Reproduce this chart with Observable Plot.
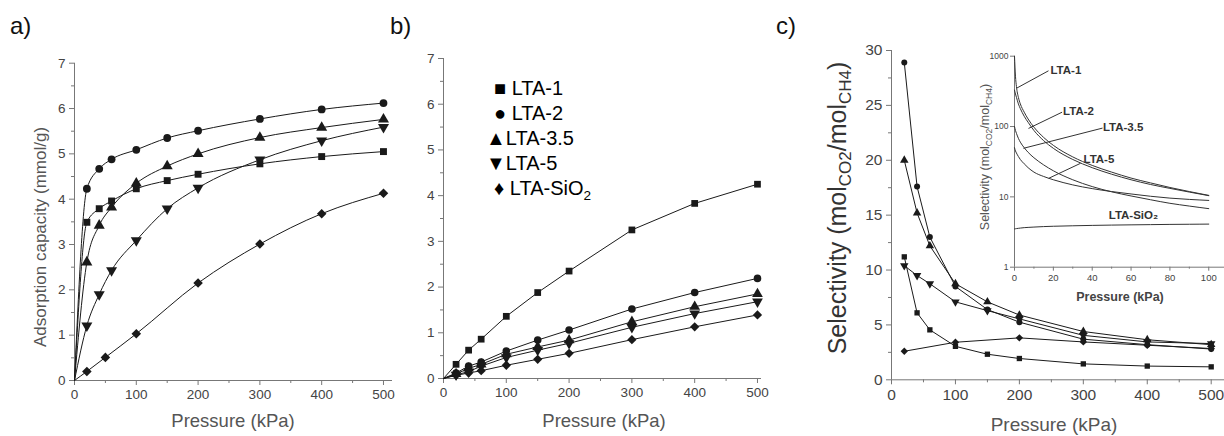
<!DOCTYPE html>
<html>
<head>
<meta charset="utf-8">
<script src="https://cdn.jsdelivr.net/npm/d3@7"></script>
<script src="https://cdn.jsdelivr.net/npm/@observablehq/plot@0.6"></script>
<style>
  body { margin: 0; background: #fff; }
  #root { position: relative; width: 1224px; height: 436px; overflow: hidden; font-family: "Liberation Sans", Arial, sans-serif; }
  .lbl { position: absolute; white-space: nowrap; line-height: 1; }
  .rot { transform: translate(-50%, -50%) rotate(-90deg); }
  .ctr { transform: translate(-50%, -50%); }
  .panel { position: absolute; font-size: 24px; color: #111; }
  .leg { position: absolute; font-size: 20px; color: #000; white-space: nowrap; line-height: 1; }
  sub { font-size: 68%; vertical-align: -0.35em; line-height: 0; }
</style>
</head>
<body>
<div id="root"></div>
<script>
// ---------------- DATA ----------------
const seriesNames = ["LTA-1", "LTA-2", "LTA-3.5", "LTA-5", "LTA-SiO2"];

// a) CO2 adsorption capacity (mmol/g)
const pressureA = [0, 20, 40, 60, 100, 150, 200, 300, 400, 500];
const pressureA_SiO2 = [0, 20, 50, 100, 200, 300, 400, 500];
const a_LTA1 = [0, 3.49, 3.79, 3.96, 4.23, 4.41, 4.55, 4.78, 4.94, 5.05];
const a_LTA2 = [0, 4.23, 4.67, 4.88, 5.09, 5.35, 5.51, 5.77, 5.98, 6.12];
const a_LTA35 = [0, 2.61, 3.42, 3.82, 4.35, 4.73, 5.00, 5.36, 5.58, 5.76];
const a_LTA5 = [0, 1.21, 1.90, 2.43, 3.09, 3.79, 4.25, 4.87, 5.29, 5.59];
const a_SiO2 = [0, 0.20, 0.51, 1.03, 2.15, 3.01, 3.68, 4.13];

// b) CH4 adsorption capacity (mmol/g)
const pressureB = [0, 20, 40, 60, 100, 150, 200, 300, 400, 500];
const b_LTA1 = [0, 0.31, 0.62, 0.86, 1.36, 1.88, 2.35, 3.25, 3.83, 4.25];
const b_LTA2 = [0, 0.12, 0.27, 0.36, 0.60, 0.84, 1.06, 1.52, 1.88, 2.19];
const b_LTA35 = [0, 0.10, 0.22, 0.31, 0.53, 0.69, 0.84, 1.24, 1.57, 1.85];
const b_LTA5 = [0, 0.08, 0.15, 0.27, 0.46, 0.62, 0.77, 1.12, 1.42, 1.68];
const b_SiO2 = [0, 0.07, 0.12, 0.17, 0.29, 0.42, 0.55, 0.85, 1.13, 1.39];

// c) CO2/CH4 selectivity
const pressureC = [20, 40, 60, 100, 150, 200, 300, 400, 500];
const pressureC_SiO2 = [20, 100, 200, 300, 400, 500];
const c_LTA1 = [11.2, 6.1, 4.55, 3.05, 2.33, 1.94, 1.45, 1.25, 1.18];
const c_LTA2 = [28.9, 17.6, 13.0, 8.5, 6.4, 5.25, 3.7, 3.2, 2.8];
const c_LTA35 = [20.0, 15.2, 12.2, 8.75, 7.1, 5.9, 4.4, 3.65, 3.2];
const c_LTA5 = [10.4, 9.5, 8.75, 7.1, 6.3, 5.55, 4.05, 3.45, 3.3];
const c_SiO2 = [2.6, 3.42, 3.82, 3.45, 3.15, 2.85];

// c) inset: ideal selectivity curves (log scale)
const pressureInset = [0, 0.5, 1, 2, 3, 5, 7, 10, 15, 20, 30, 40, 50, 60, 70, 80, 90, 100];
const i_LTA1 = [1000, 520, 370, 260, 210, 160, 128, 98, 70, 54, 37, 28, 22.5, 18.5, 15.8, 13.6, 11.9, 10.5];
const i_LTA2 = [330, 290, 260, 210, 180, 140, 115, 88, 63, 49, 34, 26, 21, 17.5, 15, 13.2, 11.7, 10.4];
const i_LTA35 = [100, 88, 80, 68, 60, 50, 43, 36, 28.5, 23.5, 17.5, 14, 11.8, 10.3, 9.1, 8.1, 7.4, 6.8];
const i_LTA5 = [50, 45, 42, 37.5, 34, 29.5, 26, 22.5, 19.5, 17.5, 14.8, 13.1, 11.9, 11, 10.2, 9.6, 9.2, 8.9];
const i_SiO2 = [3.5, 3.52, 3.54, 3.57, 3.6, 3.65, 3.68, 3.72, 3.78, 3.82, 3.88, 3.93, 3.97, 4.0, 4.03, 4.06, 4.08, 4.1];

// inset callouts (data units: kPa, selectivity)
const insetNotes = [
  {name: "LTA-1",    tx: 18.5, ty: 640, x1: 17.5, y1: 620, x2: 1.0,  y2: 350},
  {name: "LTA-2",    tx: 25.0, ty: 165, x1: 24.5, y1: 160, x2: 7.2,  y2: 94},
  {name: "LTA-3.5",  tx: 45.5, ty: 97,  x1: 45.3, y1: 95,  x2: 4.6,  y2: 49},
  {name: "LTA-5",    tx: 35.5, ty: 34,  x1: 34.0, y1: 30,  x2: 17.5, y2: 18.3},
  {name: "LTA-SiO₂", tx: 48.5, ty: 5.4}
];

// ticks
const ticksP500 = [0, 100, 200, 300, 400, 500];
const minorP500 = [50, 150, 250, 350, 450];
const ticksAds = [0, 1, 2, 3, 4, 5, 6, 7];
const minorAds = [0.5, 1.5, 2.5, 3.5, 4.5, 5.5, 6.5];
const ticksSel = [0, 5, 10, 15, 20, 25, 30];
const minorSel = [2.5, 7.5, 12.5, 17.5, 22.5, 27.5];
const ticksInsetX = [0, 20, 40, 60, 80, 100];
const minorInsetX = [10, 30, 50, 70, 90];
const ticksInsetY = [1, 10, 100, 1000];

// ---------------- HELPERS ----------------
const rows = (xs, ys) => xs.map((x, i) => ({x, y: ys[i]}));
const sqrt3 = Math.sqrt(3);
const triangleDown = {
  draw(context, size) {
    const y = -Math.sqrt(size / (sqrt3 * 3));
    context.moveTo(0, -y * 2);
    context.lineTo(-sqrt3 * y, y);
    context.lineTo(sqrt3 * y, y);
    context.closePath();
  }
};
const symbols = ["square", "circle", "triangle", triangleDown, "diamond2"];
const ink = "#1a1a1a";
const intFmt = d => String(d);

function seriesMarks(sets, curve, r) {
  const marks = [];
  sets.forEach((d) => {
    marks.push(Plot.line(d, {x: "x", y: "y", curve, stroke: ink, strokeWidth: 1}));
  });
  sets.forEach((d, k) => {
    const rr = k === 4 ? r * 1.1 : (k === 2 || k === 3 ? r * 1.05 : r);
    marks.push(Plot.dot(d.filter(p => p.y > 0), {x: "x", y: "y", symbol: symbols[k], r: rr, fill: ink, stroke: "none"}));
  });
  return marks;
}

function axesMarks(xt, xm, yt, ym, fs) {
  return [
    Plot.axisX({ticks: xt, tickSize: 5, tickPadding: 4, tickFormat: intFmt, label: null, stroke: "#777", fontSize: fs}),
    Plot.axisX({ticks: xm, tickSize: 3, tickFormat: () => "", label: null, stroke: "#777"}),
    Plot.axisY({ticks: yt, tickSize: 5, tickPadding: 4, tickFormat: intFmt, label: null, stroke: "#777", fontSize: fs}),
    Plot.axisY({ticks: ym, tickSize: 3, tickFormat: () => "", label: null, stroke: "#777"}),
    Plot.ruleX([0], {stroke: "#777"}),
    Plot.ruleY([0], {stroke: "#777"})
  ];
}

const root = document.getElementById("root");
function place(svg, left, top) {
  svg.style.position = "absolute";
  svg.style.left = left + "px";
  svg.style.top = top + "px";
  svg.style.maxWidth = "none";
  root.appendChild(svg);
}
function label(html, cx, cy, size, color, rotate, weight) {
  const d = document.createElement("div");
  d.className = "lbl " + (rotate ? "rot" : "ctr");
  d.style.left = cx + "px";
  d.style.top = cy + "px";
  d.style.fontSize = size + "px";
  d.style.color = color;
  if (weight) d.style.fontWeight = weight;
  d.innerHTML = html;
  root.appendChild(d);
}
const baseStyle = (fs) => ({fontFamily: "Liberation Sans, Arial, sans-serif", fontSize: fs + "px", color: "#444", background: "transparent", overflow: "hidden"});

// ---------------- PANEL a ----------------
const setsA = [
  rows(pressureA, a_LTA1), rows(pressureA, a_LTA2), rows(pressureA, a_LTA35),
  rows(pressureA, a_LTA5), rows(pressureA_SiO2, a_SiO2)
];
place(Plot.plot({
  width: 400, height: 436,
  marginLeft: 74, marginRight: 8, marginTop: 62.7, marginBottom: 56,
  style: baseStyle(13.5),
  x: {domain: [0, 514.6], label: null},
  y: {domain: [0, 7], label: null},
  marks: [
    ...axesMarks(ticksP500, minorP500, ticksAds, minorAds, 13.5),
    ...seriesMarks(setsA, "monotone-x", 3.9)
  ]
}), 0, 0);

// ---------------- PANEL b ----------------
const setsB = [
  rows(pressureB, b_LTA1), rows(pressureB, b_LTA2), rows(pressureB, b_LTA35),
  rows(pressureB, b_LTA5), rows(pressureB, b_SiO2)
];
place(Plot.plot({
  width: 374, height: 436,
  marginLeft: 43, marginRight: 13, marginTop: 58, marginBottom: 58,
  style: baseStyle(13.5),
  x: {domain: [0, 506.4], label: null},
  y: {domain: [0, 7], label: null},
  marks: [
    ...axesMarks(ticksP500, minorP500, ticksAds, minorAds, 13.5),
    ...seriesMarks(setsB, "linear", 3.8)
  ]
}), 400, 0);

// ---------------- PANEL c ----------------
const setsC = [
  rows(pressureC, c_LTA1), rows(pressureC, c_LTA2), rows(pressureC, c_LTA35),
  rows(pressureC, c_LTA5), rows(pressureC_SiO2, c_SiO2)
];
place(Plot.plot({
  width: 424, height: 436,
  marginLeft: 91, marginRight: 0, marginTop: 50, marginBottom: 56.7,
  style: baseStyle(15.5),
  x: {domain: [0, 520.8], label: null},
  y: {domain: [0, 30], label: null},
  marks: [
    ...axesMarks(ticksP500, minorP500, ticksSel, minorSel, 15.5),
    ...seriesMarks(setsC, "linear", 3.0)
  ]
}), 800, 0);

// ---------------- INSET ----------------
const setsI = [
  rows(pressureInset, i_LTA1), rows(pressureInset, i_LTA2), rows(pressureInset, i_LTA35),
  rows(pressureInset, i_LTA5), rows(pressureInset, i_SiO2)
];
const notesWithLine = insetNotes.filter(n => n.x1 !== undefined);
place(Plot.plot({
  width: 264, height: 270,
  marginLeft: 54, marginRight: 0, marginTop: 15.7, marginBottom: 43.3,
  style: baseStyle(9.5),
  x: {domain: [0, 108.1], label: null},
  y: {type: "log", domain: [1, 1000], label: null},
  marks: [
    Plot.axisX({ticks: ticksInsetX, tickSize: 4, tickPadding: 3, label: null, stroke: "#777", fontSize: 9.5}),
    Plot.axisX({ticks: minorInsetX, tickSize: 2, tickFormat: () => "", label: null, stroke: "#777"}),
    Plot.axisY({ticks: ticksInsetY, tickSize: 4, tickPadding: 2, tickFormat: intFmt, label: null, stroke: "#777", fontSize: 8.5}),
    Plot.ruleX([0], {stroke: "#777"}),
    Plot.ruleY([1], {stroke: "#777"}),
    ...setsI.map(d => Plot.line(d, {x: "x", y: "y", curve: "monotone-x", stroke: "#333", strokeWidth: 1})),
    Plot.link(notesWithLine, {x1: "x1", y1: "y1", x2: "x2", y2: "y2", stroke: "#333", strokeWidth: 1}),
    Plot.text(insetNotes, {x: "tx", y: "ty", text: "name", textAnchor: "start", fontSize: 11.5, fontWeight: "bold", fill: "#333"})
  ]
}), 960, 40);

// ---------------- TEXT: panel letters, axis titles, legend ----------------
const letters = [["a)", 10, 12], ["b)", 390, 12], ["c)", 776, 12]];
letters.forEach(([t, x, y]) => {
  const d = document.createElement("div");
  d.className = "panel"; d.style.left = x + "px"; d.style.top = y + "px"; d.textContent = t;
  root.appendChild(d);
});

label("Adsorption capacity (mmol/g)", 40, 237, 17, "#555", true);
label("Pressure (kPa)", 233, 421, 18.5, "#555", false);
label("Pressure (kPa)", 604, 421, 18.5, "#555", false);
label("Pressure (kPa)", 1054, 424, 19, "#555", false);
label("Selectivity (mol<sub>CO2</sub>/mol<sub>CH4</sub>)", 837, 208, 25, "#333", true);
label("Selectivity (mol<sub>CO2</sub>/mol<sub>CH4</sub>)", 985, 157, 12.5, "#555", true);
label("Pressure (kPa)", 1120, 297, 12.5, "#444", false, "bold");

const legendGlyphs = ["■", "●", "▲", "▼", "♦"];
const legendLeft = [494, 494, 486, 486, 494];
const legendTop = [78, 103, 128, 153, 178];
seriesNames.forEach((name, k) => {
  const d = document.createElement("div");
  d.className = "leg";
  d.style.left = legendLeft[k] + "px";
  d.style.top = legendTop[k] + "px";
  const txt = name === "LTA-SiO2" ? "LTA-SiO<sub>2</sub>" : name;
  d.innerHTML = legendGlyphs[k] + (k === 2 || k === 3 ? "" : " ") + txt;
  root.appendChild(d);
});
</script>
</body>
</html>
